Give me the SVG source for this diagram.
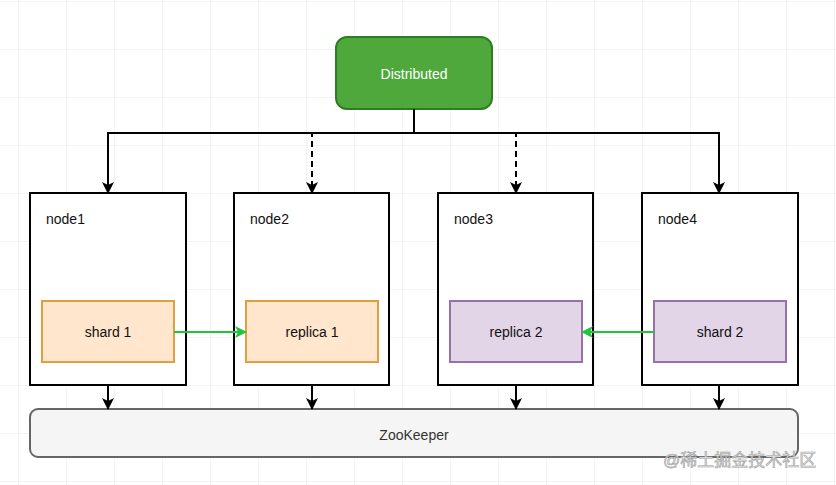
<svg xmlns="http://www.w3.org/2000/svg" width="836" height="485" viewBox="0 0 836 485">
<defs>
<pattern id="grid" x="18" y="1" width="48" height="48" patternUnits="userSpaceOnUse">
<path d="M0 0 H48 M0 0 V48" fill="none" stroke="#e8e8e8" stroke-width="1"/>
</pattern>
<marker id="ab" viewBox="0 0 12 12" refX="11" refY="6" markerWidth="12" markerHeight="12" markerUnits="userSpaceOnUse" orient="auto">
<path d="M0 0 L12 6 L0 12 L3 6 Z" fill="#000"/>
</marker>
<marker id="ag" viewBox="0 0 12 12" refX="11" refY="6" markerWidth="12" markerHeight="12" markerUnits="userSpaceOnUse" orient="auto">
<path d="M0 0 L12 6 L0 12 L3 6 Z" fill="#22c43e"/>
</marker>
</defs>
<style>
text{font-family:"Liberation Sans",Arial,sans-serif;font-size:14px;fill:#111}
.node{fill:#fff;stroke:#000;stroke-width:2}
.or{fill:#ffe6cc;stroke:#e0a040;stroke-width:2}
.pu{fill:#e1d5e7;stroke:#9673a6;stroke-width:2}
.c{stroke:#000;stroke-width:2;fill:none}
.g{stroke:#22c43e;stroke-width:2;fill:none}
.mid{text-anchor:middle;dominant-baseline:central}
</style>
<rect width="836" height="485" fill="#fff"/>
<rect width="836" height="485" fill="url(#grid)"/>

<g id="distributed">
<rect x="336" y="37" width="156" height="72" rx="11" fill="#4ea83b" stroke="#2f7d22" stroke-width="2"/>
<text x="414" y="74" class="mid" style="fill:#fff">Distributed</text>
</g>

<g id="node1">
<rect x="30" y="193" width="156" height="192" class="node"/>
<text x="46" y="224">node1</text>
</g>
<g id="node2">
<rect x="234" y="193" width="155" height="192" class="node"/>
<text x="250" y="224">node2</text>
</g>
<g id="node3">
<rect x="438" y="193" width="155" height="192" class="node"/>
<text x="454" y="224">node3</text>
</g>
<g id="node4">
<rect x="642" y="193" width="156" height="192" class="node"/>
<text x="658" y="224">node4</text>
</g>

<g id="shard1">
<rect x="42" y="301" width="132" height="61" class="or"/>
<text x="108" y="332" class="mid">shard 1</text>
</g>
<g id="replica1">
<rect x="246" y="301" width="132" height="61" class="or"/>
<text x="312" y="332" class="mid">replica 1</text>
</g>
<g id="replica2">
<rect x="450" y="301" width="132" height="61" class="pu"/>
<text x="516" y="332" class="mid">replica 2</text>
</g>
<g id="shard2">
<rect x="654" y="301" width="132" height="61" class="pu"/>
<text x="720" y="332" class="mid">shard 2</text>
</g>

<g id="zookeeper">
<rect x="30" y="409" width="768" height="48" rx="8" fill="#f5f5f5" stroke="#666" stroke-width="2"/>
<text x="414" y="435" class="mid" style="fill:#333">ZooKeeper</text>
</g>

<g id="connectors">
<path d="M414 109 V133" class="c"/>
<path d="M414 133 H108 V193" class="c" marker-end="url(#ab)"/>
<path d="M414 133 H719 V193" class="c" marker-end="url(#ab)"/>
<path d="M414 133 H312 V193" class="c" stroke-dasharray="6 4" marker-end="url(#ab)"/>
<path d="M414 133 H516 V193" class="c" stroke-dasharray="6 4" marker-end="url(#ab)"/>
<path d="M174 332 H246" class="g" marker-end="url(#ag)"/>
<path d="M654 332 H582" class="g" marker-end="url(#ag)"/>
<path d="M108 385 V409" class="c" marker-end="url(#ab)"/>
<path d="M312 385 V409" class="c" marker-end="url(#ab)"/>
<path d="M516 385 V409" class="c" marker-end="url(#ab)"/>
<path d="M719 385 V409" class="c" marker-end="url(#ab)"/>
</g>

<text x="663" y="466" style="font-family:'Liberation Sans','Noto Sans CJK SC',sans-serif;font-size:17px;fill:#e6e6e6;stroke:#a0a0a0;stroke-width:0.6">@稀土掘金技术社区</text>
</svg>
